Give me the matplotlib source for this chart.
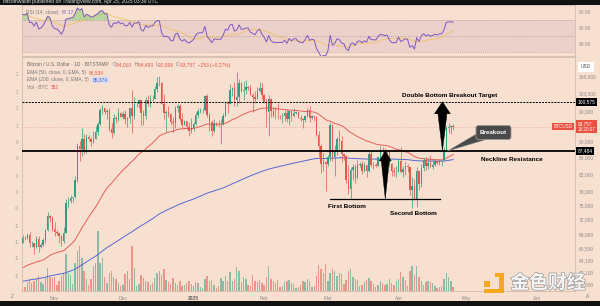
import numpy as np
import pandas as pd
import matplotlib
matplotlib.use("Agg")
from matplotlib import pyplot as plt
from matplotlib.patches import Polygon, FancyBboxPatch, Rectangle
from matplotlib.ticker import FixedLocator, NullLocator, NullFormatter, FuncFormatter
import matplotlib.transforms as mtransforms
import matplotlib.patheffects as pe

plt.rcParams['font.family'] = ['Liberation Sans', 'DejaVu Sans']

## data: BITSTAMP BTCUSD daily, Oct 18 2024 .. Apr 25 2025
# closes Oct 1 - Oct 17 2024, only used to warm up the RSI
warmup_close = [60800, 60650, 60750, 62080, 62060, 62820, 62220, 62130, 60580, 60270,
                62450, 63190, 62850, 66080, 67040, 67610, 67410]

close_oct = [68390, 68360, 69000, 67370, 67380, 66680, 68160, 66640, 67010, 67930, 69900, 72720, 72340, 70220]
high_oct = [68970, 68670, 69400, 69500, 67800, 67450, 68800, 68750, 67400, 68300, 70200, 73600, 72970, 72680]
low_oct = [67400, 68000, 68100, 66600, 66600, 65300, 66450, 65700, 66400, 66800, 67500, 69700, 71450, 69700]

close_nov = [69480, 69320, 68740, 67800, 69360, 75600, 75900, 76540, 76700, 80470,
             88700, 87950, 90580, 87250, 91070, 90600, 89850, 90460, 92310, 94340,
             98350, 98940, 97700, 98000, 93000, 91950, 95960, 95650, 97460, 96410]
high_nov = [71600, 69950, 69400, 69000, 70550, 76400, 76900, 77200, 76900, 81500,
            89600, 89950, 93450, 91800, 91900, 91450, 91050, 92600, 94000, 94900,
            98950, 99600, 98750, 98600, 98900, 94650, 97250, 96650, 98700, 97700]
low_nov = [68800, 69050, 67450, 66800, 67480, 69300, 74500, 75600, 75800, 76500,
           80200, 85100, 86250, 86700, 87100, 90100, 88800, 89400, 90400, 91600,
           94100, 97200, 97100, 95800, 92600, 90800, 91850, 94700, 95350, 96200]

close_dec = [97190, 95860, 96000, 98770, 96630, 99900, 99920, 101170, 97400, 96680,
             101170, 100040, 101460, 101380, 104300, 106060, 106140, 100000, 97460, 97750,
             97220, 95100, 94700, 98690, 99400, 95780, 94180, 95160, 93520, 92640, 93430]
high_dec = [97900, 98200, 96300, 99000, 103900, 101950, 100500, 101400, 101200, 98300,
            101900, 102500, 102600, 102650, 105200, 107800, 108300, 106500, 102800, 98200,
            99500, 97400, 96400, 99450, 99950, 99900, 97300, 95500, 95200, 94900, 96100]
low_dec = [95700, 94400, 93600, 94700, 92000, 95900, 99000, 98800, 94150, 94300,
           95700, 99350, 99200, 100600, 101250, 103300, 105300, 99950, 95700, 92200,
           96400, 94200, 92400, 93400, 97600, 95200, 93500, 94100, 93000, 91300, 92000]

close_jan = [94430, 96890, 98110, 98240, 98350, 102240, 96950, 95040, 92490, 94700,
             94570, 94490, 94520, 96530, 100500, 99990, 104080, 104500, 101090, 102000,
             106140, 103660, 103960, 104800, 104700, 102600, 102080, 101330, 103700, 104700, 102400]
high_jan = [94900, 97800, 98950, 98700, 98800, 102500, 102700, 97300, 95400, 95800,
            95000, 95400, 95900, 97300, 100700, 100900, 105800, 104950, 106300, 109350,
            107200, 106300, 106800, 107100, 105300, 105500, 103200, 103800, 104800, 106400, 106000]
low_jan = [92700, 94300, 96000, 97500, 97300, 97900, 96200, 92500, 91200, 92200,
           93800, 93700, 89250, 94300, 96500, 97300, 99950, 102300, 99500, 99450,
           100100, 103300, 101200, 102700, 104100, 102500, 97700, 100300, 101300, 103300, 101500]

close_feb = [100650, 97700, 101400, 97870, 96610, 96560, 96530, 96480, 96500, 97430,
             95760, 97870, 96620, 97500, 97570, 96120, 95770, 95540, 96640, 98330,
             96150, 96580, 96270, 91450, 88700, 84250, 84700, 84350]
high_feb = [102800, 101400, 102500, 101700, 99000, 99200, 100150, 96900, 97300, 98300,
            98500, 98100, 98000, 98800, 97900, 97700, 97000, 96000, 96900, 98750,
            99500, 96900, 96500, 96500, 92500, 89300, 87100, 85100]
low_feb = [100300, 93700, 91200, 96200, 96200, 95700, 95650, 95700, 94700, 95300,
           94900, 94100, 95200, 96300, 97200, 96000, 95200, 93400, 95000, 96400,
           94900, 95800, 95200, 91200, 86100, 82300, 82700, 78200]

close_mar = [86030, 94250, 86100, 87250, 90600, 89960, 86740, 86150, 80600, 78530,
             82860, 83720, 81070, 83970, 84340, 82580, 84010, 82720, 86850, 84170,
             84040, 83830, 86080, 87500, 87390, 86900, 87180, 84350, 82600, 82330, 82540]
high_mar = [86500, 95000, 94400, 88900, 91000, 92800, 91200, 86800, 86500, 84000,
            83600, 84400, 84200, 85300, 84700, 85000, 84700, 83900, 87400, 87400,
            84800, 84500, 86100, 88700, 88500, 88250, 87800, 87500, 84600, 83500, 83900]
low_mar = [83800, 85050, 85100, 81500, 86400, 87800, 84700, 85300, 80000, 77500,
           76600, 80600, 79900, 80800, 83600, 82000, 82400, 81200, 82500, 83700,
           83200, 83700, 83800, 85600, 86300, 85900, 85850, 83700, 81600, 81600, 81300]

close_apr = [85150, 82490, 83100, 83850, 83500, 78370, 79160, 76300, 82580, 79590,
             83400, 85290, 83740, 84560, 83640, 84030, 84930, 84450, 85060, 85170,
             87510, 93440, 93700, 94010, 93757]
high_apr = [85500, 88500, 83900, 84700, 84200, 83700, 81200, 80800, 83500, 82700,
            84200, 85800, 86100, 85800, 86400, 85500, 85400, 85100, 85600, 85300,
            88500, 93800, 94700, 94300, 94493]
low_apr = [82400, 82300, 81200, 81650, 82400, 77200, 74500, 76200, 74600, 78400,
           78900, 82700, 83000, 83200, 83600, 83100, 83800, 84300, 84100, 83900,
           85100, 87600, 91950, 91700, 92898]

# volume, BTC
vol_oct = [200, 400, 900, 1100, 800, 1000, 1200, 1500, 900, 700, 1300, 2300, 1400, 1300]
vol_nov = [1400, 600, 1000, 1500, 1800, 3700, 1800, 1600, 700, 2800,
           4000, 4500, 3300, 2000, 1200, 600, 1200, 2500, 2800, 6000,
           2800, 3300, 1400, 800, 1800, 2000, 1400, 1200, 800, 500]
vol_dec = [600, 1700, 2000, 1200, 4500, 2300, 500, 700, 1600, 1300,
           1000, 900, 600, 800, 1300, 1800, 2000, 1600, 2200, 1100,
           900, 700, 1300, 800, 600, 1000, 500, 600, 800, 1000, 700]
vol_jan = [500, 900, 800, 400, 300, 1200, 1500, 1000, 1100, 600,
           300, 500, 1300, 1000, 1500, 1000, 1900, 1000, 1200, 2400,
           2000, 900, 1400, 1200, 600, 500, 1600, 1000, 900, 1100, 800]
vol_feb = [600, 1400, 2500, 1200, 1000, 800, 1100, 400, 500, 900,
           1000, 1100, 800, 700, 300, 400, 600, 1000, 900, 1200,
           1000, 400, 500, 1500, 2600, 2200, 1800, 2700]
vol_mar = [1000, 1800, 2200, 2000, 1500, 1800, 1700, 700, 1100, 2000,
           2200, 1400, 1200, 1100, 500, 600, 900, 1100, 1300, 1000,
           700, 400, 600, 1000, 800, 600, 700, 1200, 800, 600, 1000]
vol_apr = [1200, 1900, 1400, 1100, 500, 2000, 2500, 1600, 2500, 1400,
           1000, 600, 900, 1000, 900, 800, 500, 300, 400, 500,
           1200, 1800, 1400, 1000, 352]

# EMA values on Oct 17 (start of the lines)
ema50_start = 62600
ema200_start = 60400

# pattern levels drawn on the chart
neckline = 87484
target = 100575
bottom_level = 76350
pattern_days = (121, 169.3)     # bottom line, days after Nov 1
depth_arrow_day = 145.2
target_arrow_day = 170.3

month_ticks = [0, 30, 61, 92, 120, 151, 181, 212]
month_labels = ['Nov', 'Dec', '2025', 'Feb', 'Mar', 'Apr', 'May', 'Jun']
price_ticks = [108000, 103000, 98000, 90000, 86000, 82000, 78000, 75000,
               72000, 69000, 66500, 64100, 62100, 60000]

## build arrays
close = np.array(close_oct + close_nov + close_dec + close_jan + close_feb + close_mar + close_apr, float)
high = np.array(high_oct + high_nov + high_dec + high_jan + high_feb + high_mar + high_apr, float)
low = np.array(low_oct + low_nov + low_dec + low_jan + low_feb + low_mar + low_apr, float)
volume = np.array(vol_oct + vol_nov + vol_dec + vol_jan + vol_feb + vol_mar + vol_apr, float)
open_ = np.concatenate([[warmup_close[-1]], close[:-1]])
high = np.maximum(high, np.maximum(open_, close))
low = np.minimum(low, np.minimum(open_, close))
days = np.arange(len(close)) - len(close_oct)   # 0 = Nov 1


def ema(vals, n, seed):
    a = 2.0 / (n + 1)
    out = []
    e = seed
    for v in vals:
        e = e + a * (v - e)
        out.append(e)
    return np.array(out)


ema50 = ema(close, 50, ema50_start)
ema200 = ema(close, 200, ema200_start)

# RSI 14 (Wilder)
allc = np.array(warmup_close + list(close), float)
dif = np.diff(allc)
gain = np.clip(dif, 0, None)
loss = np.clip(-dif, 0, None)
ag, al = gain[:14].mean(), loss[:14].mean()
rsi_all = np.full(len(allc), np.nan)
rsi_all[14] = 100 - 100 / (1 + ag / al)
for k in range(14, len(dif)):
    ag = (ag * 13 + gain[k]) / 14
    al = (al * 13 + loss[k]) / 14
    rsi_all[k + 1] = 100 - 100 / (1 + ag / al)
rsi_ma_all = pd.Series(rsi_all).rolling(14, min_periods=1).mean().values
rsi = rsi_all[len(warmup_close):]
rsi_ma = rsi_ma_all[len(warmup_close):]

## figure
BG = '#f8e0d0'
BAND = '#ecd0ca'
GREEN = '#2f9e82'
RED = '#e4554c'
SPINE = '#d2bcae'
TXT = '#8c8c8c'
W, H = 600, 306

fig = plt.figure(figsize=(W / 100, H / 100), dpi=100, facecolor=BG)


def rect(x0, y0, x1, y1):
    return [x0 / W, 1 - y1 / H, (x1 - x0) / W, (y1 - y0) / H]


ax_rsi = fig.add_axes(rect(22, 5, 575, 56), facecolor=BG)
ax_vol = fig.add_axes(rect(22, 57, 575, 291), sharex=ax_rsi)
ax = fig.add_axes(rect(22, 57, 575, 291), sharex=ax_rsi)
ax_vol.set_zorder(1)
ax.set_zorder(2)
ax.patch.set_visible(False)
ax_vol.patch.set_visible(False)
ax_vol.axis('off')

ax_rsi.set_xlim(-14.3, 228.5)

# RSI panel
ax_rsi.set_ylim(25.4, 89.1)
ax_rsi.axhspan(30, 70, color=BAND, zorder=0, lw=0)
for lvl in (70, 50, 30):
    ax_rsi.axhline(lvl, color='#a99a9a', lw=0.5, ls=(0, (1.5, 1.5)), zorder=1)
ax_rsi.plot(days, rsi_ma, color='#f0c25a', lw=0.7, alpha=0.8, zorder=2)
ax_rsi.fill_between(days, rsi, 70, where=rsi > 70, interpolate=True,
                    color='#8fcf78', alpha=0.6, lw=0, zorder=2)
ax_rsi.plot(days, rsi, color='#7e57c2', lw=0.7, zorder=3)
ax_rsi.yaxis.tick_right()
ax_rsi.set_yticks([80, 60, 40])
ax_rsi.set_yticklabels(['80.00', '60.00', '40.00'])
ax_rsi.tick_params(axis='y', length=0, pad=2.5, labelsize=3.5, labelcolor=TXT)
ax_rsi.tick_params(axis='x', length=0, labelbottom=False)
for s in ax_rsi.spines.values():
    s.set_color(SPINE)
    s.set_linewidth(0.6)

# volume
ax_vol.set_ylim(0, 23400)
up = close >= open_
ax_vol.bar(days, volume, width=0.62, color=np.where(up, GREEN, RED), alpha=0.55, lw=0)

# price panel
ax.set_yscale('log')
ax.set_ylim(58840, 114175)
ax.axhline(close[-1], color='#e2a090', lw=0.5, ls=(0, (1, 1.5)), zorder=1)
ax.plot(days, ema200, color='#5468d4', lw=0.7, zorder=2)
ax.plot(days, ema50, color='#e8605a', lw=0.7, zorder=2)
col = np.where(up, GREEN, RED)
ax.vlines(days, low, high, colors=col, lw=0.5, zorder=3)
ax.bar(days, np.maximum(np.abs(close - open_), 60), bottom=np.minimum(open_, close),
       width=0.62, color=col, lw=0, zorder=4)

ax.axhline(neckline, color='black', lw=1.3, zorder=6)
ax.axhline(target, color='black', lw=0.7, ls=(0, (2, 1.2)), zorder=6)
ax.plot(pattern_days, [bottom_level, bottom_level], color='black', lw=0.9, zorder=6)

ax.yaxis.tick_right()
ax.yaxis.set_major_locator(FixedLocator(price_ticks))
ax.yaxis.set_minor_locator(NullLocator())
ax.yaxis.set_minor_formatter(NullFormatter())
ax.yaxis.set_major_formatter(FuncFormatter(lambda v, p: f"{v:,.0f}"))
ax.tick_params(axis='y', which='both', length=0, pad=2.5, labelsize=3.5, labelcolor=TXT)
ax.set_xticks(month_ticks)
ax.set_xticklabels(month_labels)
ax.tick_params(axis='x', length=0, pad=3.5, labelsize=3.6, labelcolor=TXT)
for t in ax.get_xticklabels():
    if t.get_text() == '2025':
        t.set_fontweight('bold')
        t.set_color('#666666')
for s in ax.spines.values():
    s.set_color(SPINE)
    s.set_linewidth(0.6)

# price-scale labels
tr = mtransforms.blended_transform_factory(ax.transAxes, ax.transData)
ax.text(1.005, target, '100,575', transform=tr, fontsize=3.5, color='white', va='center', ha='left',
        bbox=dict(boxstyle='square,pad=0.3', fc='black', ec='none'), zorder=8, clip_on=False)
ax.text(1.005, neckline, '87,484', transform=tr, fontsize=3.5, color='white', va='center', ha='left',
        bbox=dict(boxstyle='square,pad=0.3', fc='black', ec='none'), zorder=8, clip_on=False)
ax.text(1.005, close[-1], '93,757\n15:20:07', transform=tr, fontsize=3.3, color='white',
        va='center', ha='left', linespacing=1.0,
        bbox=dict(boxstyle='square,pad=0.3', fc='#e8503f', ec='none'), zorder=8, clip_on=False)
ax.text(0.996, close[-1], 'BTCUSD', transform=tr, fontsize=3.3, color='white', va='center', ha='right',
        bbox=dict(boxstyle='square,pad=0.3', fc='#e8503f', ec='none'), zorder=8, clip_on=False)
ax.text(1.01, (291 - 67) / 234, 'USD', transform=ax.transAxes, fontsize=3.5, color='#555555',
        va='center', ha='left', bbox=dict(boxstyle='square,pad=0.6', fc='white', ec='none'),
        zorder=8, clip_on=False)

## overlay in pixel coordinates
ov = fig.add_axes([0, 0, 1, 1])
ov.set_xlim(0, W)
ov.set_ylim(H, 0)
ov.axis('off')
ov.set_zorder(10)
ov.patch.set_visible(False)


def to_px(day, price):
    x, y = ax.transData.transform((day, price))
    return x, H - y


def up_arrow(day, p_base, p_tip, head_h, head_w, shaft_w):
    tx, ty = to_px(day, p_tip)
    bx, by = to_px(day, p_base)
    pts = [(tx, ty), (tx + head_w, ty + head_h), (tx + shaft_w, ty + head_h), (bx, by),
           (tx - shaft_w, ty + head_h), (tx - head_w, ty + head_h)]
    ov.add_patch(Polygon(pts, closed=True, fc='black', ec='black', lw=0.3))


up_arrow(target_arrow_day, neckline, target, 12, 8, 4.5)
up_arrow(depth_arrow_day, bottom_level, neckline, 10, 6, 4)

# breakout callout
tipx, tipy = to_px(172.6, neckline)
ov.add_patch(Polygon([(478, 133), (486, 139.5), (tipx, tipy)], closed=True,
                     fc='#4a4a4a', ec='#8a8a8a', lw=0.4))
ov.add_patch(FancyBboxPatch((476, 125.5), 35, 14, boxstyle='round,pad=0,rounding_size=2.5',
                            fc='#4a4a4a', ec='#9a9a9a', lw=0.6))
ov.text(493.5, 132.6, 'Breakout', fontsize=4.5, fontweight='bold', color='white', ha='center', va='center')

lab = dict(fontsize=4.6, fontweight='bold', color='black', ha='center', va='center')
ov.text(449.5, 95, 'Double Bottom Breakout Target', **lab)
ov.text(511.5, 159.8, 'Neckline Resistance', **lab)
ov.text(346.5, 206.6, 'First Bottom', **lab)
ov.text(413, 213.4, 'Second Bottom', **lab)

# header bars
ov.add_patch(Rectangle((0, 0), W, 5, fc='#111111', ec='none'))
ov.add_patch(Rectangle((0, 301), W, 5, fc='#111111', ec='none'))
ov.text(3, 1.6, 'bitcoinwallet published on TradingView.com, Apr 25, 2025 03:39 UTC',
        fontsize=3.6, color='#dddddd', ha='left', va='center')

renderer = fig.canvas.get_renderer()


def seg_text(x, y, parts, size=3.5):
    for s, c, box in parts:
        kw = {}
        if box:
            kw['bbox'] = dict(boxstyle='square,pad=0.15', fc=box, ec='none')
        t = ov.text(x, y, s, color=c, fontsize=size, ha='left', va='center', **kw)
        x += t.get_window_extent(renderer=renderer).width


seg_text(26, 12.3, [('RSI (14, close)  ', '#777777', None), ('67.17', '#7e57c2', None)])
seg_text(27, 65, [('Bitcoin / U.S. Dollar · 1D · BITSTAMP   ', '#666666', None),
                  ('O', '#777777', None), ('94,010  ', '#e0554a', None),
                  ('H', '#777777', None), ('94,493  ', '#e0554a', None),
                  ('L', '#777777', None), ('92,898  ', '#e0554a', None),
                  ('C', '#777777', None), ('93,757  −253 (−0.27%)', '#e0554a', None)])
seg_text(27, 72.5, [('EMA (50, close, 0, EMA, 5)  ', '#777777', None), ('86,534', '#e0554a', None)])
seg_text(27, 80, [('EMA (200, close, 0, EMA, 5)   ', '#777777', None), ('85,374', '#4a5fd0', '#d6dcf5')])
seg_text(27, 87.5, [('Vol · BTC  ', '#777777', None), ('352', '#e0554a', None)])

# left scale stubs
left_y = [75, 92, 109, 126, 142, 159, 176, 192, 209, 226, 242, 259, 276]
left_s = ['1', '1', '1', '1', '0', '0', '0', '0', '-0', '-1', '-1', '-1', '-1']
for yy, ss in zip(left_y, left_s):
    ov.text(18.5, yy, ss, fontsize=3.3, color='#999999', ha='right', va='center')
ov.text(12, 297, '2', fontsize=3.5, color='#777777', ha='center', va='center')
ov.text(588, 297, 'A', fontsize=3.5, color='#777777', ha='center', va='center')

# watermark
GOLD = '#f5a81c'
ov.add_patch(Rectangle((484, 281), 6, 6, fc=GOLD, ec='none'))
ov.add_patch(Rectangle((499, 273), 4.5, 20, fc=GOLD, ec='none'))
ov.add_patch(Rectangle((484, 288.5), 19.5, 4.5, fc=GOLD, ec='none'))
ov.add_patch(Rectangle((495, 273), 8.5, 4, fc=GOLD, ec='none'))
ov.text(548, 283, '金色财经', family=['Noto Sans CJK SC', 'DejaVu Sans'], fontsize=13.5,
        fontweight='bold', color='#f6f6f6', ha='center', va='center',
        path_effects=[pe.withStroke(linewidth=1.0, foreground='#9a9a9a')])

fig.savefig('out.png', dpi=100, facecolor=BG)
